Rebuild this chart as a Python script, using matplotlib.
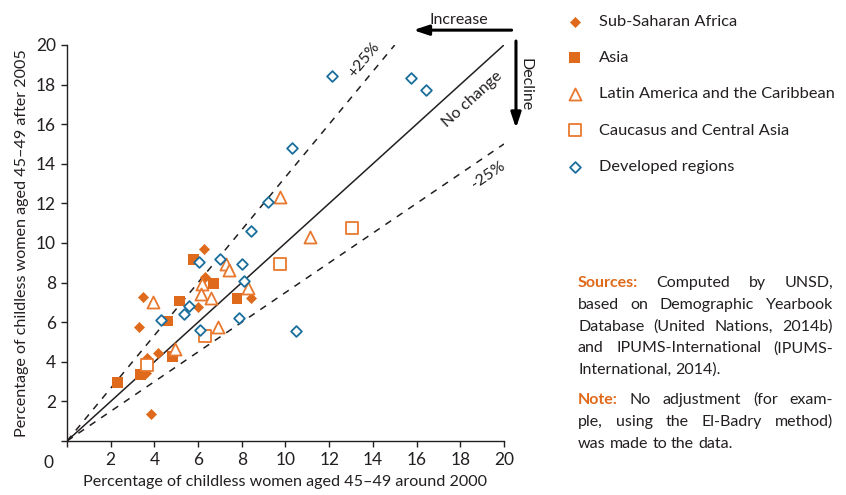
import matplotlib
matplotlib.use("Agg")
import matplotlib.pyplot as plt
import numpy as np

plt.rcParams['font.family'] = ['Lato', 'DejaVu Sans']

# ---- data (percent childless, around 2000 vs after 2005) ----
ssa_x = [6.25, 6.33, 3.47, 5.98, 8.40, 3.29, 4.15, 3.65, 3.63, 3.85]
ssa_y = [9.70, 8.27, 7.25, 6.75, 7.22, 5.77, 4.45, 4.19, 3.42, 1.35]

asia_x = [5.81, 6.71, 5.17, 7.78, 4.61, 4.85, 3.38, 2.33]
asia_y = [9.16, 7.95, 7.07, 7.22, 6.06, 4.26, 3.34, 2.94]

lac_x = [3.94, 6.20, 6.15, 6.60, 7.27, 7.41, 8.29, 6.89, 4.93, 9.76, 11.10]
lac_y = [7.02, 7.95, 7.41, 7.20, 8.94, 8.64, 7.75, 5.74, 4.65, 12.34, 10.32]

cca_x = [6.33, 3.68, 13.06, 9.75]
cca_y = [5.31, 3.82, 10.77, 8.94]

dev_x = [6.06, 7.02, 8.00, 8.09, 5.57, 5.34, 4.30, 6.10, 7.87, 8.42, 9.21, 10.48, 10.31, 12.11, 15.73, 16.42]
dev_y = [9.06, 9.17, 8.93, 8.08, 6.82, 6.43, 6.13, 5.62, 6.20, 10.62, 12.05, 5.57, 14.80, 18.42, 18.32, 17.74]

ticks = [2, 4, 6, 8, 10, 12, 14, 16, 18, 20]

ORANGE = '#E06A1B'
ORANGE_L = '#E8782E'
BLUE = '#1A6E9B'
DARK = '#231F20'

fig = plt.figure(figsize=(8.46, 4.95), dpi=100)
ax = fig.add_axes([0.0792, 0.1091, 0.5165, 0.800])
ax.set_xlim(0, 20)
ax.set_ylim(0, 20)

# reference lines
ax.plot([0, 20], [0, 20], color=DARK, lw=1.1, zorder=1)
ax.plot([0, 15], [0, 20], color=DARK, lw=1.1, ls=(0, (4.5, 4.5)), zorder=1)
ax.plot([0, 20], [0, 15], color=DARK, lw=1.1, ls=(0, (4.5, 4.5)), zorder=1)

ax.scatter(ssa_x, ssa_y, marker='D', s=26, color=ORANGE, edgecolors=ORANGE, lw=0.5, zorder=3,
           label='Sub-Saharan Africa')
ax.scatter(asia_x, asia_y, marker='s', s=62, color=ORANGE, edgecolors='none', zorder=3, label='Asia')
ax.scatter(lac_x, lac_y, marker='^', s=75, facecolors='white', edgecolors=ORANGE_L, lw=1.3, zorder=3,
           label='Latin America and the Caribbean')
ax.scatter(cca_x, cca_y, marker='s', s=75, facecolors='white', edgecolors=ORANGE_L, lw=1.3, zorder=3,
           label='Caucasus and Central Asia')
ax.scatter(dev_x, dev_y, marker='D', s=30, facecolors='white', edgecolors=BLUE, lw=1.3, zorder=4,
           label='Developed regions')

# axes styling
for s in ['top', 'right']:
    ax.spines[s].set_visible(False)
for s in ['left', 'bottom']:
    ax.spines[s].set_color(DARK)
    ax.spines[s].set_linewidth(1.0)
ax.set_xticks([0] + ticks)
ax.set_yticks([0] + ticks)
ax.set_xticklabels([''] + [str(t) for t in ticks])
ax.set_yticklabels([''] + [str(t) for t in ticks])
ax.tick_params(direction='out', length=4, width=1, colors=DARK, labelsize=12.5, pad=4)
ax.text(-0.03, -0.035, '0', transform=ax.transAxes, ha='right', va='top', fontsize=12.5, color=DARK)

ax.set_xlabel('Percentage of childless women aged 45\u201349 around 2000', fontsize=11.6, color=DARK, labelpad=5)
ax.set_ylabel('Percentage of childless women aged 45\u201349 after 2005', fontsize=11.6, color=DARK, labelpad=5)

# line annotations
def ang(slope):
    p1 = ax.transData.transform((0, 0))
    p2 = ax.transData.transform((10, 10 * slope))
    return np.degrees(np.arctan2(p2[1] - p1[1], p2[0] - p1[0]))

ax.text(13.6, 19.25, '+25%', rotation=ang(4 / 3), ha='center', va='center', fontsize=11.5, color=DARK,
        rotation_mode='anchor')
ax.text(18.55, 17.25, 'No change', rotation=ang(1), ha='center', va='center', fontsize=11.5, color=DARK,
        rotation_mode='anchor')
ax.text(19.3, 13.45, '-25%', rotation=ang(0.75), ha='center', va='center', fontsize=11.5, color=DARK,
        rotation_mode='anchor')

# direction arrows
ax.annotate('', xy=(15.85, 20.75), xytext=(20.35, 20.75), xycoords='data', annotation_clip=False,
            arrowprops=dict(arrowstyle='-|>,head_length=0.9,head_width=0.3', color='black', lw=2.2,
                            shrinkA=0, shrinkB=0))
ax.text(17.95, 21.25, 'Increase', ha='center', va='center', fontsize=11.5, color=DARK, clip_on=False)
ax.annotate('', xy=(20.55, 15.8), xytext=(20.55, 20.2), xycoords='data', annotation_clip=False,
            arrowprops=dict(arrowstyle='-|>,head_length=0.9,head_width=0.3', color='black', lw=2.2,
                            shrinkA=0, shrinkB=0))
ax.text(20.98, 18.0, 'Decline', rotation=-90, ha='center', va='center', fontsize=11.5, color=DARK, clip_on=False)

# legend
leg = fig.legend(loc='upper left', bbox_to_anchor=(0.660, 0.984), frameon=False, fontsize=11.8,
                 labelspacing=1.33, handletextpad=0.85, handlelength=1.2, borderaxespad=0)
for t in leg.get_texts():
    t.set_color(DARK)

# source / note text, justified
fig.canvas.draw()
renderer = fig.canvas.get_renderer()
FS = 11.5
left_px, right_px = 578, 833
H = fig.get_figheight() * fig.dpi
W = fig.get_figwidth() * fig.dpi

def width_of(s, bold=False):
    t = fig.text(0, 0, s, fontsize=FS, fontweight='bold' if bold else 'normal')
    w = t.get_window_extent(renderer).width
    t.remove()
    return w

def put_line(words, y_px, justify=True):
    # words: list of (text, bold, color)
    widths = [width_of(w, b) for w, b, c in words]
    total = sum(widths)
    if justify and len(words) > 1:
        gap = (right_px - left_px - total) / (len(words) - 1)
    else:
        gap = width_of('a b') - width_of('ab')
    x = left_px
    for (w, b, c), wd in zip(words, widths):
        fig.text(x / W, 1 - y_px / H, w, fontsize=FS, fontweight='bold' if b else 'normal', color=c,
                 ha='left', va='baseline')
        x += wd + gap

def words(s, color=DARK):
    return [(w, False, color) for w in s.split()]

lines = [
    ([('Sources:', True, ORANGE)] + words('Computed by UNSD,'), True),
    (words('based on Demographic Yearbook'), True),
    (words('Database (United Nations, 2014b)'), True),
    (words('and IPUMS-International (IPUMS-'), True),
    (words('International, 2014).'), False),
]
y0 = 287
for i, (ws, j) in enumerate(lines):
    put_line(ws, y0 + i * 21.8, j)
lines2 = [
    ([('Note:', True, ORANGE)] + words('No adjustment (for exam-'), True),
    (words('ple, using the El-Badry method)'), True),
    (words('was made to the data.'), False),
]
y1 = 404
for i, (ws, j) in enumerate(lines2):
    put_line(ws, y1 + i * 21.8, j)

fig.savefig('out.png', dpi=100)
